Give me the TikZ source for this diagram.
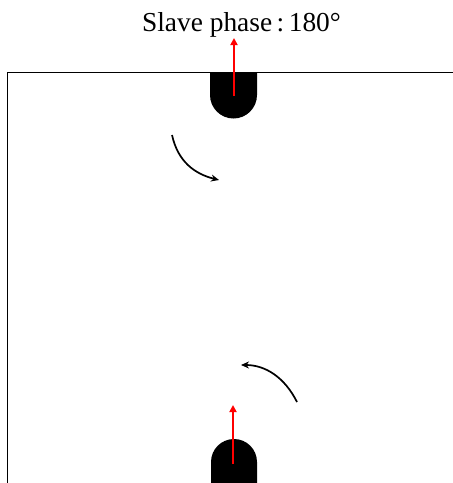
\documentclass[tikz,border=0pt]{standalone}
\usepackage{fontspec}
\setmainfont{Liberation Serif}
\usetikzlibrary{arrows.meta}
\begin{document}
\begin{tikzpicture}[x=1pt,y=-1pt,
  rotarrow/.style={line width=1.7pt,-{Stealth[length=8pt,width=7pt]}},
  phasearrow/.style={red,line width=2pt,-{Triangle[length=7pt,width=7pt]}},
  magnet/.style={fill=black}]
\useasboundingbox (0,0) rectangle (453,483);
\node[font=\fontsize{27.4}{32}\selectfont,anchor=base,inner sep=0pt] (title) at (241.5,31.5) {Slave phase\kern4.5pt:\kern4.5pt180°};
\draw[line width=0.8pt] (7,483) -- (7,72) -- (453,72);
% top magnet
\fill[magnet] (210,72) -- (257,72) -- (257,95) arc[start angle=0,end angle=180,radius=23.5] -- cycle;
% bottom magnet
\fill[magnet] (257,483) -- (257,462) arc[start angle=0,end angle=-180,radius=23] -- (211,483) -- cycle;
\coordinate (t0) at (234,96);
\coordinate (t1) at (234,38);
\coordinate (b0) at (233,464);
\coordinate (b1) at (233,405);
\draw[phasearrow] (t0) -- (t1);
\draw[phasearrow] (b0) -- (b1);
\coordinate (a0) at (172,135);
\coordinate (a1) at (219,180);
\coordinate (c0) at (297,402);
\coordinate (c1) at (241,365);
\draw[rotarrow] (a0) .. controls (178,162) and (195,174) .. (a1);
\draw[rotarrow] (c0) .. controls (285,378) and (266,365) .. (c1);
\end{tikzpicture}
\end{document}
